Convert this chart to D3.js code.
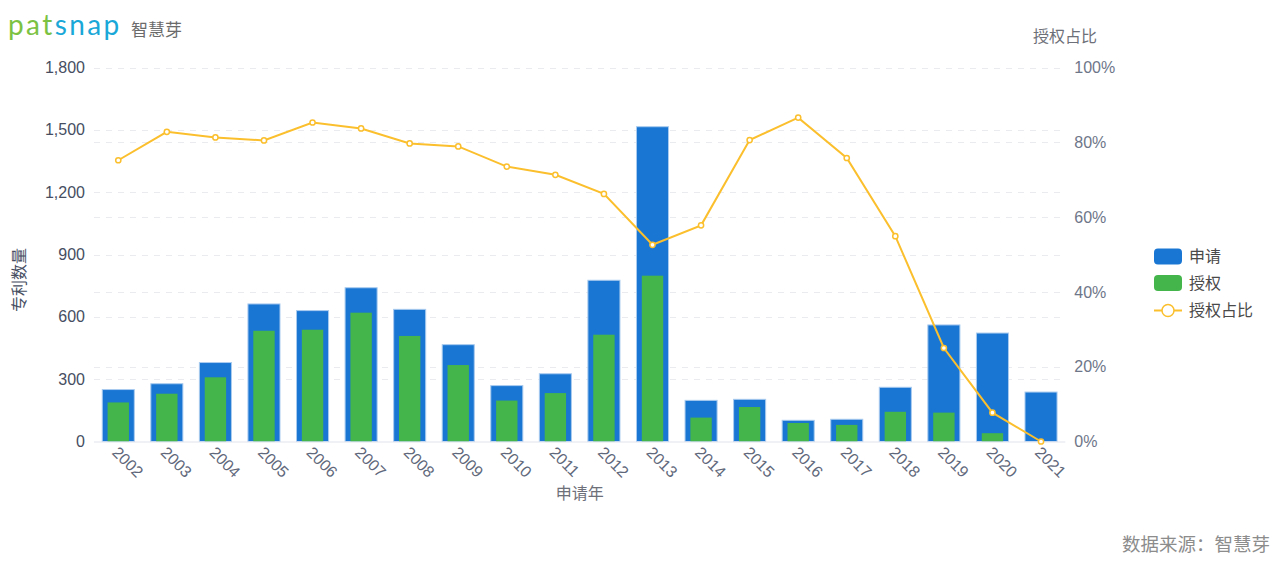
<!DOCTYPE html>
<html><head><meta charset="utf-8">
<script src="https://cdn.jsdelivr.net/npm/d3@7"></script>
<style>
html,body{margin:0;padding:0;background:#fff;}
svg{display:block;font-family:"Liberation Sans","Noto Sans CJK SC",sans-serif;}
</style></head>
<body>
<svg id="chart" width="1280" height="567"></svg>
<script>
const years = ["2002","2003","2004","2005","2006","2007","2008","2009","2010","2011","2012","2013","2014","2015","2016","2017","2018","2019","2020","2021"];
const applyCounts = [250, 278, 380, 662, 630, 740, 636, 466, 269, 326, 776, 1515, 198, 203, 102, 107, 261, 561, 522, 238];
const grantCounts = [188, 230, 309, 533, 538, 620, 508, 368, 197, 233, 514, 798, 115, 166, 89, 80, 143, 139, 40, 0];
const grantRatio = [75.2, 82.8, 81.3, 80.5, 85.3, 83.7, 79.7, 78.9, 73.5, 71.3, 66.2, 52.6, 57.8, 80.6, 86.6, 75.8, 54.9, 25.0, 7.7, 0];
const leftTicks = [0, 300, 600, 900, 1200, 1500, 1800];
const rightTicks = [0, 20, 40, 60, 80, 100];
const legendLabels = ["申请", "授权", "授权占比"];

const svg = d3.select("#chart");
const L = 94, R = 1065.3, T = 67.5, B = 441.5;

const x = d3.scaleBand().domain(years).range([L, R]).paddingInner(0.34).paddingOuter(0.17);
const step = x.step();
const yL = d3.scaleLinear().domain([0, 1800]).range([B, T]);
const yR = d3.scaleLinear().domain([0, 100]).range([B, T]);

const blue = "#1a76d3", green = "#43b54a", amber = "#fbbf2d";

// grid lines
const grid = svg.append("g");
grid.selectAll("line.gl").data(leftTicks.slice(1)).join("line")
  .attr("x1", L).attr("x2", R).attr("y1", d => Math.round(yL(d)) + 0.5).attr("y2", d => Math.round(yL(d)) + 0.5)
  .attr("stroke", "#e9ebef").attr("stroke-dasharray", "6,6");
grid.selectAll("line.gr").data(rightTicks.slice(1)).join("line")
  .attr("x1", L).attr("x2", R).attr("y1", d => Math.round(yR(d)) + 0.5).attr("y2", d => Math.round(yR(d)) + 0.5)
  .attr("stroke", "#e9ebef").attr("stroke-dasharray", "6,6");

// bars
const bw = x.bandwidth();
const gw = step * 0.44;
svg.append("g").selectAll("rect").data(years).join("rect")
  .attr("x", d => x(d)).attr("width", bw)
  .attr("y", (d, i) => yL(applyCounts[i])).attr("height", (d, i) => B - yL(applyCounts[i]))
  .attr("fill", blue).attr("stroke", "#a9cbef").attr("stroke-width", 1);
svg.append("g").selectAll("rect").data(years).join("rect")
  .attr("x", d => x(d) + (bw - gw) / 2).attr("width", gw)
  .attr("y", (d, i) => yL(grantCounts[i])).attr("height", (d, i) => B - yL(grantCounts[i]))
  .attr("fill", green);

// x axis line
svg.append("line").attr("x1", L).attr("x2", R).attr("y1", B + 0.5).attr("y2", B + 0.5)
  .attr("stroke", "#dfe3ec").attr("stroke-width", 1);

// ratio line
const cx = d => x(d) + bw / 2;
const line = d3.line().x((d, i) => cx(years[i])).y(d => yR(d));
svg.append("path").datum(grantRatio).attr("d", line)
  .attr("fill", "none").attr("stroke", amber).attr("stroke-width", 2);
svg.append("g").selectAll("circle").data(grantRatio).join("circle")
  .attr("cx", (d, i) => cx(years[i])).attr("cy", d => yR(d)).attr("r", 2.6)
  .attr("fill", "#fff").attr("stroke", amber).attr("stroke-width", 1.5);

// left axis labels
const axL = d3.axisLeft(yL).tickValues(leftTicks).tickFormat(d3.format(",")).tickSize(0).tickPadding(0);
const gL = svg.append("g").attr("transform", `translate(${L - 9},0)`).call(axL);
gL.select(".domain").remove();
gL.selectAll("text").attr("font-size", 16).attr("fill", "#464e62").attr("font-family", "Liberation Sans, sans-serif");

// right axis labels
const axR = d3.axisRight(yR).tickValues(rightTicks).tickFormat(d => d + "%").tickSize(0).tickPadding(0);
const gR = svg.append("g").attr("transform", `translate(${R + 9},0)`).call(axR);
gR.select(".domain").remove();
gR.selectAll("text").attr("font-size", 16).attr("fill", "#6e7689").attr("font-family", "Liberation Sans, sans-serif");

// x axis labels
const axX = d3.axisBottom(x).tickSize(0).tickPadding(0);
const gX = svg.append("g").attr("transform", `translate(0,${B})`).call(axX);
gX.select(".domain").remove();
gX.selectAll("text")
  .attr("font-size", 16).attr("fill", "#5f687b").attr("font-family", "Liberation Sans, sans-serif")
  .attr("text-anchor", "start").attr("dy", null).attr("y", 0)
  .attr("transform", "translate(-4,9) rotate(45)").attr("dominant-baseline", "middle");

// axis titles
svg.append("text").attr("x", (L + R) / 2).attr("y", 499).attr("text-anchor", "middle")
  .attr("font-size", 16).attr("fill", "#6e7079").text("申请年");
svg.append("text").attr("transform", "translate(25,280) rotate(-90)").attr("text-anchor", "middle")
  .attr("font-size", 16).attr("fill", "#464e62").text("专利数量");
svg.append("text").attr("x", 1065).attr("y", 42).attr("text-anchor", "middle")
  .attr("font-size", 16).attr("fill", "#6e7079").text("授权占比");

// legend
const lg = svg.append("g");
const ly = [256.5, 283, 310.5];
lg.append("rect").attr("x", 1154).attr("y", ly[0] - 8).attr("width", 28).attr("height", 16).attr("rx", 4).attr("fill", blue);
lg.append("rect").attr("x", 1154).attr("y", ly[1] - 8).attr("width", 28).attr("height", 16).attr("rx", 4).attr("fill", green);
lg.append("line").attr("x1", 1154).attr("x2", 1182).attr("y1", ly[2]).attr("y2", ly[2]).attr("stroke", amber).attr("stroke-width", 2);
lg.append("circle").attr("cx", 1168).attr("cy", ly[2]).attr("r", 6).attr("fill", "#fff").attr("stroke", amber).attr("stroke-width", 1.5);
lg.selectAll("text").data(legendLabels).join("text")
  .attr("x", 1189).attr("y", (d, i) => ly[i]).attr("dy", "0.35em")
  .attr("font-size", 16).attr("fill", "#4a4a4a").text(d => d);

// logo
const logo = svg.append("text").attr("x", 8).attr("y", 35).attr("font-family", "Lato, sans-serif")
  .attr("font-size", 28).attr("letter-spacing", "2.4");
logo.append("tspan").attr("fill", "#7cc242").text("pat");
logo.append("tspan").attr("fill", "#1aa8d8").text("snap");
svg.append("text").attr("x", 131).attr("y", 36).attr("font-size", 17).attr("fill", "#6b6b6b").text("智慧芽");

// source
svg.append("text").attr("x", 1270).attr("y", 551).attr("text-anchor", "end")
  .attr("font-size", 18.5).attr("fill", "#8c8c8c").text("数据来源：智慧芽");
</script>
</body></html>
